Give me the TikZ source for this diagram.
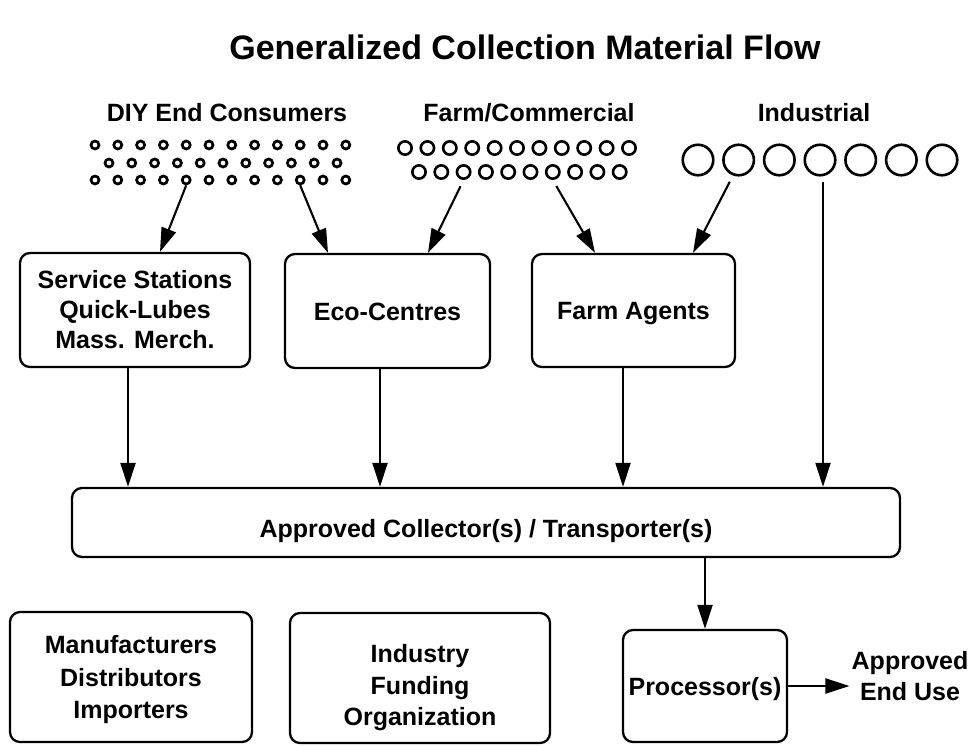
\documentclass[tikz,border=0pt]{standalone}
\usepackage{fontspec}
\setmainfont{Liberation Sans}
\usetikzlibrary{arrows.meta,calc}
\begin{document}
\begin{tikzpicture}[x=1pt,y=-1pt,
  box/.style={draw,line width=2.3pt,rounded corners=10pt,align=center,
    font=\fontsize{25}{30}\selectfont\bfseries,inner sep=0pt},
  one/.style={text height=18pt,text depth=0pt},
  btxt/.style={align=center,inner sep=0pt,font=\fontsize{25}{32.5}\selectfont\bfseries},
  lbl/.style={font=\fontsize{25}{31}\selectfont\bfseries,inner sep=2pt},
  arr/.style={line width=2.1pt,-{Triangle[length=24pt,width=15pt]}},
  dc/.style={circle,draw,line width=2.7pt,minimum size=8pt,inner sep=0pt},
  fc/.style={circle,draw,line width=2.6pt,minimum size=13.3pt,inner sep=0pt},
  ic/.style={circle,draw,line width=2.6pt,minimum size=30.5pt,inner sep=0pt}]
\useasboundingbox[fill=white] (0,0) rectangle (976,745);

% title and group labels
\node[font=\fontsize{34}{40}\selectfont\bfseries] (title) at (525,47) {Generalized Collection Material Flow};
\node[lbl] (diy) at (227,113) {DIY End Consumers};
\node[lbl] (fcom) at (529,113) {Farm/Commercial};
\node[lbl] (ind) at (814,113) {Industrial};

% consumer circles
\foreach \i in {0,...,11} {
  \node[dc] (da\i) at (95+\i*22.8,145) {};
  \node[dc] (dc\i) at (95+\i*22.8,180) {};
}
\foreach \i in {0,...,10} \node[dc] (db\i) at (109+\i*22.8,163) {};
\foreach \i in {0,...,10} \node[fc] (fa\i) at (405+\i*22.4,148) {};
\foreach \i in {0,...,9} \node[fc] (fb\i) at (419+\i*22.3,172) {};
\foreach \i in {0,...,6} \node[ic] (ia\i) at (698+\i*40.67,160) {};

% boxes
\node[box,minimum width=230pt,minimum height=114pt] (svc) at (135,310) {Service Stations\\Quick-Lubes\\Mass. Merch.};
\node[box,one,minimum width=205pt,minimum height=114pt] (eco) at (387.5,311) {Eco-Centres};
\node[box,one,minimum width=203pt,minimum height=113pt] (farm) at (633.5,310.5) {Farm Agents};
\node[box,minimum width=828pt,minimum height=69pt,text height=30pt,text depth=0pt] (coll) at (486,522.5) {Approved Collector(s) / Transporter(s)};
\node[box,one,minimum width=164pt,minimum height=112pt] (proc) at (705,686) {Processor(s)};
\node[box,minimum width=242pt,minimum height=130pt] (manu) at (131,677) {};
\node[btxt] (manut) at (131,680) {Manufacturers\\Distributors\\Importers};
\node[box,minimum width=260pt,minimum height=130pt] (fund) at (420,678) {};
\node[btxt,font=\fontsize{25}{31.5}\selectfont\bfseries] (fundt) at (420,688) {Industry\\Funding\\Organization};
\node[font=\fontsize{25}{31}\selectfont\bfseries,align=center,inner sep=2pt] (eu) at (910,676) {Approved\\End Use};

% arrow x positions
\coordinate (t1) at (160,0);
\coordinate (t2) at (328,0);
\coordinate (t3) at (428,0);
\coordinate (t4) at (595,0);
\coordinate (t5) at (693,0);
\coordinate (t6) at (823,0);
\coordinate (t7) at (128,0);
\coordinate (t8) at (380,0);
\coordinate (t9) at (623,0);

% arrows from sources
\draw[arr] (dc4.south) -- (t1 |- svc.north);
\draw[arr] (dc9.south) -- (t2 |- eco.north);
\draw[arr,shorten <=7pt] (fb2.south) -- (t3 |- eco.north);
\draw[arr,shorten <=7pt] (fb6.south) -- (t4 |- farm.north);
\draw[arr,shorten <=7pt] (ia1.-110) -- (t5 |- farm.north);
\draw[arr,shorten <=5pt] (t6 |- ia3.south) -- (t6 |- coll.north);

% arrows to collector
\draw[arr] (t7 |- svc.south) -- (t7 |- coll.north);
\draw[arr] (t8 |- eco.south) -- (t8 |- coll.north);
\draw[arr] (t9 |- farm.south) -- (t9 |- coll.north);

% collector to processor to end use
\draw[arr] (proc.north |- coll.south) -- (proc.north);
\draw[arr] (proc.east) -- (proc.east -| eu.west);
\end{tikzpicture}
\end{document}
